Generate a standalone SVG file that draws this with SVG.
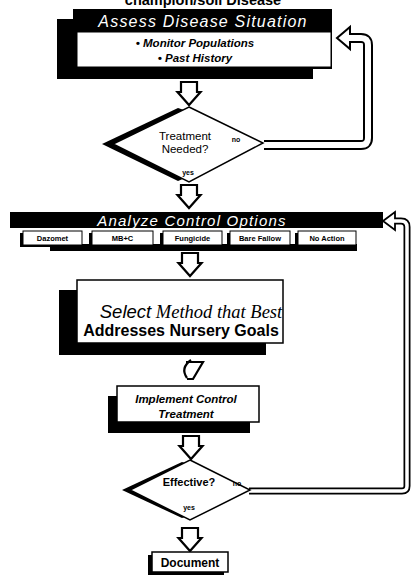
<svg xmlns="http://www.w3.org/2000/svg" xmlns:xlink="http://www.w3.org/1999/xlink" width="413" height="577" viewBox="0 0 413 577">
<defs>
<style>
.s{font-family:"Liberation Sans",Arial,sans-serif}
.hd{font-style:italic;fill:#fff;text-anchor:middle}
.bi{font-style:italic;font-weight:bold;fill:#000;text-anchor:middle}
.b{font-weight:bold;fill:#000;text-anchor:middle}
.r{fill:#000;text-anchor:middle}
.blk{fill:#000}
.wb{fill:#fff;stroke:#000;stroke-width:1.5}
.arr{fill:#fff;stroke:#000;stroke-width:2.2;stroke-linejoin:miter}
.pipeO{fill:none;stroke:#000;stroke-linejoin:round}
.pipeI{fill:none;stroke:#fff;stroke-linejoin:round}
</style>
<polygon id="dn" points="-8,0 8,0 8,10 11.5,10 0,23 -11.5,10 -8,10"/>
</defs>
<rect width="413" height="577" fill="#fff"/>

<text class="s b" x="203" y="5" font-size="14.5">champion/soil Disease</text>

<g id="connectors">
  <use xlink:href="#dn" class="arr" x="189" y="82"/>
  <use xlink:href="#dn" class="arr" x="189" y="185"/>
  <use xlink:href="#dn" class="arr" x="190" y="253"/>
  <path d="M191,360 Q180,368 187,378 M186,362 H203 L193,379 H187" fill="none" stroke="#000" stroke-width="2.2"/>
  <use xlink:href="#dn" class="arr" x="191" y="436"/>
  <use xlink:href="#dn" class="arr" x="190" y="528"/>
  <path class="pipeO" stroke-width="10" d="M264,145 H361 Q368,145 368,138 V45 Q368,38 361,38 H348"/>
  <polygon points="337,38 350,27 350,49" fill="#fff" stroke="#000" stroke-width="2"/>
  <path class="pipeI" stroke-width="6" d="M264,145 H361 Q368,145 368,138 V45 Q368,38 361,38 H347"/>
  <path class="pipeO" stroke-width="7" d="M249,491 H402 Q407,491 407,486 V227 Q407,221 401,221 H394"/>
  <polygon points="383,221 395,212 395,230" fill="#fff" stroke="#000" stroke-width="1.8"/>
  <path class="pipeI" stroke-width="3.5" d="M249,491 H402 Q407,491 407,486 V227 Q407,221 401,221 H393"/>
</g>

<g id="assess">
  <rect class="blk" x="57" y="19" width="256" height="60"/>
  <rect class="blk" x="73" y="9" width="259" height="60"/>
  <rect x="77" y="32" width="254" height="35" fill="#fff" stroke="#000" stroke-width="1"/>
  <text class="s hd" x="203" y="27" font-size="16" letter-spacing="1.2">Assess Disease Situation</text>
  <text class="s bi" x="195" y="47" font-size="11.5">• Monitor Populations</text>
  <text class="s bi" x="195" y="62" font-size="11.5">• Past History</text>
</g>

<g id="treatment">
  <polygon class="blk" points="178,108 102,144 178,181 190,176 190,112"/>
  <polygon class="wb" points="189,107 263,143 189,182 113,144"/>
  <text class="s r" x="185" y="140" font-size="11.5">Treatment</text>
  <text class="s r" x="185" y="153" font-size="11.5">Needed?</text>
  <text class="s b" x="236" y="142" font-size="7">no</text>
  <text class="s b" x="188" y="175" font-size="7">yes</text>
</g>

<g id="analyze">
  <rect class="blk" x="10" y="212" width="373" height="16"/>
  <text class="s hd" x="192" y="226" font-size="15" letter-spacing="1.2">Analyze Control Options</text>
  <rect class="blk" x="50" y="244" width="307" height="7"/>
  <g id="opt-dazomet"><rect class="blk" x="20" y="233" width="60" height="14"/><rect x="23" y="231" width="59" height="14" fill="#fff" stroke="#000"/><text class="s b" x="52.5" y="241" font-size="7.5">Dazomet</text></g>
  <g id="opt-mbc"><rect class="blk" x="89" y="233" width="62" height="14"/><rect x="92" y="231" width="61" height="14" fill="#fff" stroke="#000"/><text class="s b" x="122.5" y="241" font-size="7.5">MB+C</text></g>
  <g id="opt-fungicide"><rect class="blk" x="160" y="233" width="60" height="14"/><rect x="163" y="231" width="59" height="14" fill="#fff" stroke="#000"/><text class="s b" x="192.5" y="241" font-size="7.5">Fungicide</text></g>
  <g id="opt-fallow"><rect class="blk" x="227" y="233" width="61" height="14"/><rect x="230" y="231" width="60" height="14" fill="#fff" stroke="#000"/><text class="s b" x="260" y="241" font-size="7.5">Bare Fallow</text></g>
  <g id="opt-none"><rect class="blk" x="295" y="233" width="59" height="14"/><rect x="298" y="231" width="58" height="14" fill="#fff" stroke="#000"/><text class="s b" x="327" y="241" font-size="7.5">No Action</text></g>
</g>

<g id="select">
  <rect class="blk" x="59" y="290" width="207" height="65"/>
  <rect x="77" y="280" width="206" height="63" fill="#fff" stroke="#000" stroke-width="1.5"/>
  <text x="191" y="318" font-size="18.5" text-anchor="middle" fill="#000"><tspan font-family="Liberation Sans,Arial,sans-serif" font-style="italic">Select</tspan><tspan font-family="Liberation Serif,Times New Roman,serif" font-style="italic"> Method that Best</tspan></text>
  <text class="s b" x="181" y="336" font-size="16">Addresses Nursery Goals</text>
</g>

<g id="implement">
  <rect class="blk" x="108" y="396" width="142" height="37"/>
  <rect x="117" y="386" width="142" height="36" fill="#fff" stroke="#000" stroke-width="1.5"/>
  <text class="s bi" x="186" y="403" font-size="11.5">Implement Control</text>
  <text class="s bi" x="186" y="418" font-size="11.5">Treatment</text>
</g>

<g id="effective">
  <polygon class="blk" points="182,462 122,490 182,518 191,515 191,465"/>
  <polygon class="wb" points="190,460 250,490 190,520 130,490"/>
  <text class="s b" x="189" y="486" font-size="11">Effective?</text>
  <text class="s b" x="237" y="486" font-size="7">no</text>
  <text class="s b" x="189" y="510" font-size="7">yes</text>
</g>

<g id="document">
  <rect class="blk" x="148" y="555" width="76" height="20"/>
  <rect x="152" y="552" width="76" height="20" fill="#fff" stroke="#000" stroke-width="1.5"/>
  <text class="s b" x="190" y="567" font-size="12">Document</text>
</g>
</svg>
